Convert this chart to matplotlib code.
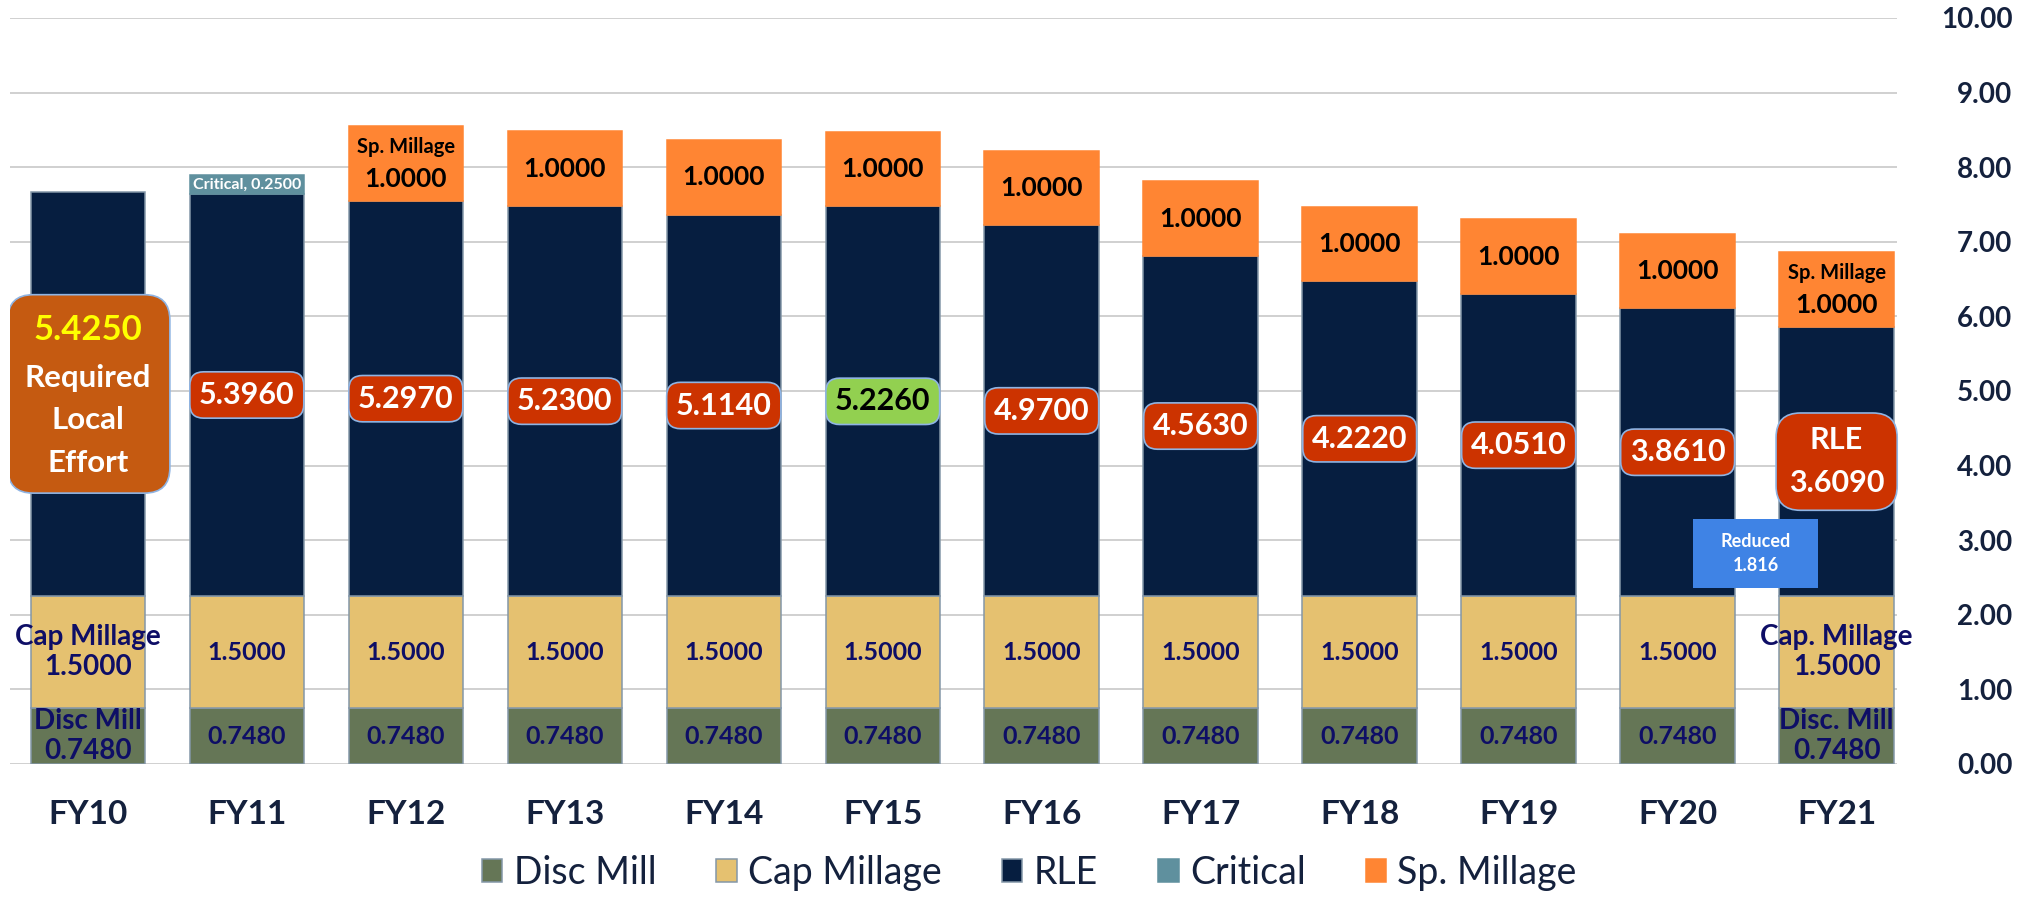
import matplotlib.pyplot as plt
import numpy as np
from matplotlib.patches import Rectangle, FancyBboxPatch

plt.rcParams['font.family'] = ['Lato', 'DejaVu Sans']

# 数据
categories = ['FY10', 'FY11', 'FY12', 'FY13', 'FY14', 'FY15',
              'FY16', 'FY17', 'FY18', 'FY19', 'FY20', 'FY21']
disc_mill = [0.748, 0.748, 0.748, 0.748, 0.748, 0.748,
             0.748, 0.748, 0.748, 0.748, 0.748, 0.748]
cap_millage = [1.5, 1.5, 1.5, 1.5, 1.5, 1.5,
               1.5, 1.5, 1.5, 1.5, 1.5, 1.5]
rle = [5.425, 5.396, 5.297, 5.230, 5.114, 5.226,
       4.970, 4.563, 4.222, 4.051, 3.861, 3.609]
critical = [0, 0.25, 0, 0, 0, 0, 0, 0, 0, 0, 0, 0]
sp_millage = [0, 0, 1.0, 1.0, 1.0, 1.0, 1.0, 1.0, 1.0, 1.0, 1.0, 1.0]
reduced = 1.816
yticks = [0, 1, 2, 3, 4, 5, 6, 7, 8, 9, 10]

# 颜色
c_disc = '#657656'
c_cap = '#E5C170'
c_rle = '#061E40'
c_crit = '#5F909E'
c_sp = '#FF8533'
navy = '#14213D'
label_blue = '#0E0E66'

fig = plt.figure(figsize=(20.3, 8.97), dpi=100)
ax = fig.add_axes([0.0049, 0.1483, 0.9296, 0.8317])

x = np.arange(len(categories))
w = 0.72
edge = dict(edgecolor='#8497A8', linewidth=1.1)

b0 = np.zeros(len(x))
b1 = b0 + np.array(disc_mill)
b2 = b1 + np.array(cap_millage)
b3 = b2 + np.array(rle)
b4 = b3 + np.array(critical)

h_disc = ax.bar(x, disc_mill, w, bottom=b0, color=c_disc, label='Disc Mill', **edge)
h_cap = ax.bar(x, cap_millage, w, bottom=b1, color=c_cap, label='Cap Millage', **edge)
h_rle = ax.bar(x, rle, w, bottom=b2, color=c_rle, label='RLE', **edge)
crit_mask = np.array(critical) > 0
h_crit = ax.bar(x[crit_mask], np.array(critical)[crit_mask], w, bottom=b3[crit_mask],
                color=c_crit, label='Critical', edgecolor=c_crit, linewidth=1.1)
sp_mask = np.array(sp_millage) > 0
h_sp = ax.bar(x[sp_mask], np.array(sp_millage)[sp_mask], w, bottom=b4[sp_mask],
              color=c_sp, label='Sp. Millage', edgecolor=c_sp, linewidth=1.1)

last = len(x) - 1

# Disc Mill / Cap Millage 标签
for i in x:
    if i == 0:
        ax.text(i, b0[i] + disc_mill[i] / 2, f"Disc Mill\n{disc_mill[i]:.4f}", ha='center', va='center',
                fontsize=20, fontweight='bold', color=label_blue, linespacing=1.2, zorder=5)
        ax.text(i, b1[i] + cap_millage[i] / 2, f"Cap Millage\n{cap_millage[i]:.4f}", ha='center', va='center',
                fontsize=20, fontweight='bold', color=label_blue, linespacing=1.2, zorder=5)
    elif i == last:
        ax.text(i, b0[i] + disc_mill[i] / 2, f"Disc. Mill\n{disc_mill[i]:.4f}", ha='center', va='center',
                fontsize=20, fontweight='bold', color=label_blue, linespacing=1.2, zorder=5)
        ax.text(i, b1[i] + cap_millage[i] / 2, f"Cap. Millage\n{cap_millage[i]:.4f}", ha='center', va='center',
                fontsize=20, fontweight='bold', color=label_blue, linespacing=1.2, zorder=5)
    else:
        ax.text(i, b0[i] + disc_mill[i] / 2, f"{disc_mill[i]:.4f}", ha='center', va='center',
                fontsize=18, fontweight='bold', color=label_blue, zorder=5)
        ax.text(i, b1[i] + cap_millage[i] / 2, f"{cap_millage[i]:.4f}", ha='center', va='center',
                fontsize=18, fontweight='bold', color=label_blue, zorder=5)

# RLE 标签
for i in x:
    ymid = b2[i] + rle[i] / 2
    if i == 0:
        # 大框: x 单位约 159px, y 单位约 74.6px, 用 mutation_aspect 保持圆角
        bw, bh = 1.02, 2.66
        ax.add_patch(FancyBboxPatch((i - bw / 2 + 0.006, ymid - bh / 2), bw, bh,
                                    boxstyle='round,pad=0,rounding_size=0.16',
                                    mutation_aspect=2.13, fc='#C55A11', ec='#8FB4E3',
                                    lw=1.2, zorder=6))
        ax.annotate(f"{rle[i]:.4f}", (i, ymid), xytext=(0, 46), textcoords='offset points',
                    ha='center', va='center', fontsize=25, fontweight='bold',
                    color='#FFFF00', zorder=7)
        ax.annotate("Required\nLocal\nEffort", (i, ymid), xytext=(0, -19), textcoords='offset points',
                    ha='center', va='center', fontsize=22.5, fontweight='bold',
                    color='white', linespacing=1.64, zorder=7)
    elif i == last:
        ax.text(i, ymid, f"RLE\n{rle[i]:.4f}", ha='center', va='center',
                fontsize=22, fontweight='bold', color='white', linespacing=1.68,
                bbox=dict(boxstyle='round,pad=0.42,rounding_size=0.8', fc='#CC3300',
                          ec='#8FB4E3', lw=1.2), zorder=6)
    else:
        fc, tc = ('#92D050', 'black') if categories[i] == 'FY15' else ('#CC3300', 'white')
        ax.text(i, ymid, f"{rle[i]:.4f}", ha='center', va='center',
                fontsize=22, fontweight='bold', color=tc,
                bbox=dict(boxstyle='round,pad=0.3,rounding_size=0.45', fc=fc,
                          ec='#8FB4E3', lw=1.2), zorder=6)

# Critical 标签
for i in x[crit_mask]:
    ax.text(i, b3[i] + critical[i] / 2, f"Critical, {critical[i]:.4f}", ha='center', va='center',
            fontsize=11.5, fontweight='bold', color='white', zorder=5)

# Sp. Millage 标签
for i in x[sp_mask]:
    ymid = b4[i] + sp_millage[i] / 2
    if i == 2 or i == last:
        ax.annotate("Sp. Millage", (i, ymid), xytext=(0, 12), textcoords='offset points',
                    ha='center', va='center', fontsize=14.5, fontweight='bold', color='black', zorder=5)
        ax.annotate(f"{sp_millage[i]:.4f}", (i, ymid), xytext=(0, -11), textcoords='offset points',
                    ha='center', va='center', fontsize=19, fontweight='bold', color='black', zorder=5)
    else:
        ax.text(i, ymid, f"{sp_millage[i]:.4f}", ha='center', va='center',
                fontsize=19, fontweight='bold', color='black', zorder=5)

# Reduced 框
rx, ry = (x[-2] + x[-1]) / 2 - 0.01, 2.82
ax.add_patch(Rectangle((rx - 0.395, ry - 0.46), 0.79, 0.92, fc='#3F83E5', ec='none', zorder=8))
ax.text(rx, ry, f"Reduced\n{reduced}", ha='center', va='center', fontsize=13,
        fontweight='bold', color='white', linespacing=1.45, zorder=9)

# 坐标轴
ax.set_xlim(-0.49, 11.38)
ax.set_ylim(0, 10)
ax.set_xticks(x)
ax.set_xticklabels(categories, fontsize=24, fontweight='bold', color=navy)
ax.tick_params(axis='x', length=0, pad=26)
ax.yaxis.tick_right()
ax.set_yticks(yticks)
ax.set_yticklabels([f"{v:.2f}" for v in yticks], fontsize=20, fontweight='bold',
                   color=navy, ha='right')
ax.tick_params(axis='y', length=0, pad=83)
ax.grid(axis='y', color='#C8C8C8', linewidth=1.2)
ax.set_axisbelow(True)
for s in ax.spines.values():
    s.set_visible(False)

# 图例
leg = fig.legend(handles=[h_disc, h_cap, h_rle, h_crit, h_sp], loc='center',
                 bbox_to_anchor=(0.507, 0.027), ncol=5, frameon=False, fontsize=27,
                 handlelength=0.55, handleheight=0.6, handletextpad=0.3, columnspacing=1.6)
for t in leg.get_texts():
    t.set_color(navy)

fig.savefig('out.png', dpi=100)
